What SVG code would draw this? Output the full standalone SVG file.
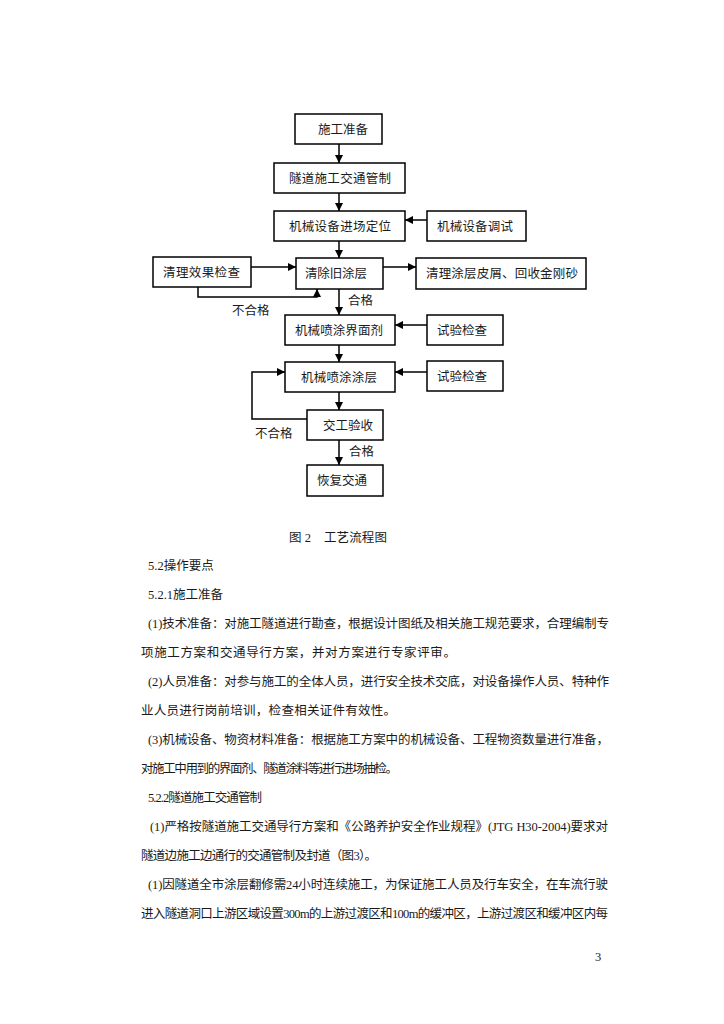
<svg xmlns="http://www.w3.org/2000/svg" width="724" height="1024" viewBox="0 0 724 1024">
<defs>
<marker id="ah" viewBox="0 0 10 10" refX="10" refY="5" markerWidth="8" markerHeight="8" markerUnits="userSpaceOnUse" orient="auto">
<path d="M0,0 L10,5 L0,10 z" fill="#000"/>
</marker>
<style>
.box{fill:#fff;stroke:#000;stroke-width:1.5}
.t{font-family:"Liberation Serif","Noto Sans CJK SC",serif;font-size:12.5px;fill:#1a1a1a}
.b{font-family:"Liberation Serif","Noto Sans CJK SC",serif;font-size:12.5px;fill:#1a1a1a}
.c{fill:none;stroke:#000;stroke-width:1.5}
</style>
</defs>
<rect width="724" height="1024" fill="#fff"/>
<g id="connectors">
<line class="c" x1="339" y1="144" x2="339" y2="163" marker-end="url(#ah)"/>
<line class="c" x1="339" y1="193" x2="339" y2="211" marker-end="url(#ah)"/>
<line class="c" x1="427" y1="220" x2="405" y2="220" marker-end="url(#ah)"/>
<line class="c" x1="339" y1="241" x2="339" y2="258" marker-end="url(#ah)"/>
<line class="c" x1="251" y1="267" x2="296" y2="267" marker-end="url(#ah)"/>
<line class="c" x1="383" y1="267" x2="416" y2="267" marker-end="url(#ah)"/>
<polyline class="c" points="198,287 198,297 317,297 317,289" marker-end="url(#ah)"/>
<line class="c" x1="339" y1="289" x2="339" y2="315" marker-end="url(#ah)"/>
<line class="c" x1="427" y1="325" x2="395" y2="325" marker-end="url(#ah)"/>
<line class="c" x1="339" y1="345" x2="339" y2="362" marker-end="url(#ah)"/>
<line class="c" x1="427" y1="372" x2="395" y2="372" marker-end="url(#ah)"/>
<line class="c" x1="339" y1="392" x2="339" y2="410" marker-end="url(#ah)"/>
<polyline class="c" points="307,419 252,419 252,372 285,372" marker-end="url(#ah)"/>
<line class="c" x1="339" y1="440" x2="339" y2="465" marker-end="url(#ah)"/>
<text class="t" x="232" y="315">不合格</text>
<text class="t" x="348" y="305">合格</text>
<text class="t" x="255" y="438">不合格</text>
<text class="t" x="349" y="456">合格</text>
</g>
<g id="n1"><rect class="box" x="295" y="114" width="87" height="30"/><text class="t" x="318" y="133.5">施工准备</text></g>
<g id="n2"><rect class="box" x="274" y="163" width="131" height="30"/><text class="t" x="289" y="182.5" textLength="102" lengthAdjust="spacing">隧道施工交通管制</text></g>
<g id="n3"><rect class="box" x="274" y="211" width="131" height="30"/><text class="t" x="289" y="230.5" textLength="102" lengthAdjust="spacing">机械设备进场定位</text></g>
<g id="n4"><rect class="box" x="427" y="211" width="99" height="30"/><text class="t" x="437" y="230.5" textLength="76" lengthAdjust="spacing">机械设备调试</text></g>
<g id="n5"><rect class="box" x="153" y="257" width="98" height="30"/><text class="t" x="163" y="276.5" textLength="77" lengthAdjust="spacing">清理效果检查</text></g>
<g id="n6"><rect class="box" x="296" y="258" width="87" height="31"/><text class="t" x="305" y="278" textLength="62" lengthAdjust="spacing">清除旧涂层</text></g>
<g id="n7"><rect class="box" x="416" y="258" width="170" height="31"/><text class="t" x="426" y="278" textLength="152" lengthAdjust="spacing">清理涂层皮屑、回收金刚砂</text></g>
<g id="n8"><rect class="box" x="285" y="315" width="110" height="30"/><text class="t" x="295" y="334.5" textLength="88" lengthAdjust="spacing">机械喷涂界面剂</text></g>
<g id="n9"><rect class="box" x="427" y="315" width="76" height="30"/><text class="t" x="437" y="334.5" textLength="50" lengthAdjust="spacing">试验检查</text></g>
<g id="n10"><rect class="box" x="285" y="362" width="110" height="30"/><text class="t" x="301" y="381.5" textLength="76" lengthAdjust="spacing">机械喷涂涂层</text></g>
<g id="n11"><rect class="box" x="427" y="361" width="76" height="30"/><text class="t" x="437" y="380.5" textLength="50" lengthAdjust="spacing">试验检查</text></g>
<g id="n12"><rect class="box" x="307" y="410" width="76" height="30"/><text class="t" x="323" y="429.5" textLength="50" lengthAdjust="spacing">交工验收</text></g>
<g id="n13"><rect class="box" x="307" y="465" width="76" height="31"/><text class="t" x="317" y="485" textLength="50" lengthAdjust="spacing">恢复交通</text></g>
<g id="caption">
<text class="b" x="289" y="541.5">图 2</text>
<text class="b" x="324" y="541.5" textLength="63" lengthAdjust="spacing">工艺流程图</text>
</g>
<g id="body">
<text class="b" x="148" y="569.5">5.2操作要点</text>
<text class="b" x="148" y="598.5">5.2.1施工准备</text>
<text class="b" x="148" y="627.5" textLength="461" lengthAdjust="spacing">(1)技术准备：对施工隧道进行勘查，根据设计图纸及相关施工规范要求，合理编制专</text>
<text class="b" x="141" y="656.5" textLength="315" lengthAdjust="spacing">项施工方案和交通导行方案，并对方案进行专家评审。</text>
<text class="b" x="148" y="685.5" textLength="461" lengthAdjust="spacing">(2)人员准备：对参与施工的全体人员，进行安全技术交底，对设备操作人员、特种作</text>
<text class="b" x="141" y="714.5" textLength="255" lengthAdjust="spacing">业人员进行岗前培训，检查相关证件有效性。</text>
<text class="b" x="148" y="743.5" textLength="461" lengthAdjust="spacing">(3)机械设备、物资材料准备：根据施工方案中的机械设备、工程物资数量进行准备，</text>
<text class="b" x="141" y="772.5" textLength="257" lengthAdjust="spacing">对施工中用到的界面剂、隧道涂料等进行进场抽检。</text>
<text class="b" x="148" y="801.5" textLength="114" lengthAdjust="spacing">5.2.2隧道施工交通管制</text>
<text class="b" x="150" y="830.5" textLength="458" lengthAdjust="spacing">(1)严格按隧道施工交通导行方案和《公路养护安全作业规程》(JTG H30-2004)要求对</text>
<text class="b" x="141" y="859.5" textLength="236" lengthAdjust="spacing">隧道边施工边通行的交通管制及封道（图3）。</text>
<text class="b" x="148" y="888.5" textLength="460" lengthAdjust="spacing">(1)因隧道全市涂层翻修需24小时连续施工，为保证施工人员及行车安全，在车流行驶</text>
<text class="b" x="141" y="917.5" textLength="467" lengthAdjust="spacing">进入隧道洞口上游区域设置300m的上游过渡区和100m的缓冲区，上游过渡区和缓冲区内每</text>
<text class="b" x="595" y="961" font-size="10">3</text>
</g>
</svg>
